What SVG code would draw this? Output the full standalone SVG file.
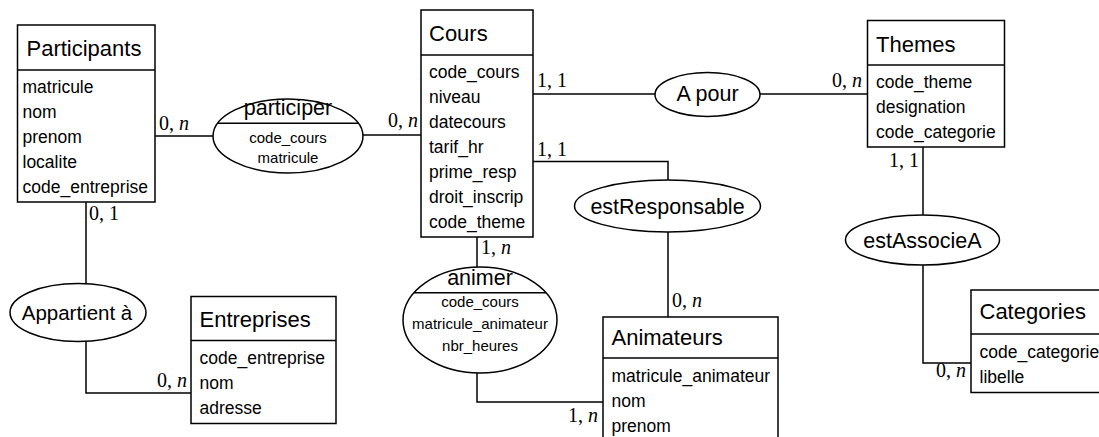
<svg xmlns="http://www.w3.org/2000/svg" width="1099" height="437" viewBox="0 0 1099 437">
<style>
.box{fill:#fff;stroke:#000;stroke-width:1.5}
.sep{stroke:#000;stroke-width:1.5}
.ell{fill:#fff;stroke:#000;stroke-width:1.5}
.ln{fill:none;stroke:#000;stroke-width:1.5}
.hd{font-family:"Liberation Sans",Arial,sans-serif;font-size:22px;fill:#000}
.at{font-family:"Liberation Sans",Arial,sans-serif;font-size:17.5px;fill:#000}
.rt{font-family:"Liberation Sans",Arial,sans-serif;font-size:21.5px;fill:#000;text-anchor:middle}
.ra{font-family:"Liberation Sans",Arial,sans-serif;font-size:15px;fill:#000;text-anchor:middle}
.cd{font-family:"Liberation Serif","Times New Roman",serif;font-size:20px;fill:#000}
.it{font-style:italic}
</style>
<rect width="1099" height="437" fill="#fff"/>
<g id="connectors">
<path class="ln" d="M155,136H213"/>
<path class="ln" d="M363,135H421"/>
<path class="ln" d="M533,94H655"/>
<path class="ln" d="M760,94H867"/>
<path class="ln" d="M533,161.5H668V180"/>
<path class="ln" d="M668,232V317"/>
<path class="ln" d="M477,237V267"/>
<path class="ln" d="M477,373V402H603"/>
<path class="ln" d="M86,202V284"/>
<path class="ln" d="M86,341V393H191"/>
<path class="ln" d="M923,147V215"/>
<path class="ln" d="M923,265V363H971"/>
<text class="cd" x="159" y="130">0, <tspan class="it">n</tspan></text>
<text class="cd" x="388" y="127">0, <tspan class="it">n</tspan></text>
<text class="cd" x="537" y="87">1, 1</text>
<text class="cd" x="832" y="87">0, <tspan class="it">n</tspan></text>
<text class="cd" x="537" y="156">1, 1</text>
<text class="cd" x="672" y="307">0, <tspan class="it">n</tspan></text>
<text class="cd" x="481" y="254">1, <tspan class="it">n</tspan></text>
<text class="cd" x="568" y="422">1, <tspan class="it">n</tspan></text>
<text class="cd" x="89" y="220">0, 1</text>
<text class="cd" x="157" y="387">0, <tspan class="it">n</tspan></text>
<text class="cd" x="889" y="167">1, 1</text>
<text class="cd" x="936" y="377">0, <tspan class="it">n</tspan></text>
</g>
<g id="participants">
<rect class="box" x="17.5" y="25" width="137.5" height="177"/>
<line class="sep" x1="17.5" y1="70" x2="155" y2="70"/>
<text class="hd" x="26.5" y="55.5">Participants</text>
<text class="at" x="22.5" y="92.5">matricule</text>
<text class="at" x="22.5" y="117.5">nom</text>
<text class="at" x="22.5" y="142.5">prenom</text>
<text class="at" x="22.5" y="167.5">localite</text>
<text class="at" x="22.5" y="192.5">code_entreprise</text>
</g>
<g id="participer">
<ellipse class="ell" cx="288" cy="136" rx="75" ry="37"/>
<line class="sep" x1="217.6" y1="123.3" x2="358.4" y2="123.3"/>
<text class="rt" x="288" y="115">participer</text>
<text class="ra" x="288" y="143">code_cours</text>
<text class="ra" x="288" y="163">matricule</text>
</g>
<g id="cours">
<rect class="box" x="421" y="10" width="112" height="227"/>
<line class="sep" x1="421" y1="55" x2="533" y2="55"/>
<text class="hd" x="429" y="40.5">Cours</text>
<text class="at" x="429" y="78">code_cours</text>
<text class="at" x="429" y="103">niveau</text>
<text class="at" x="429" y="128">datecours</text>
<text class="at" x="429" y="153">tarif_hr</text>
<text class="at" x="429" y="178">prime_resp</text>
<text class="at" x="429" y="203">droit_inscrip</text>
<text class="at" x="429" y="228">code_theme</text>
</g>
<g id="apour">
<ellipse class="ell" cx="707.5" cy="94.5" rx="52.5" ry="22"/>
<text class="rt" x="707.5" y="101">A pour</text>
</g>
<g id="themes">
<rect class="box" x="867.5" y="20.5" width="137" height="126.5"/>
<line class="sep" x1="867.5" y1="65" x2="1004.5" y2="65"/>
<text class="hd" x="876" y="51.5">Themes</text>
<text class="at" x="876" y="88">code_theme</text>
<text class="at" x="876" y="113">designation</text>
<text class="at" x="876" y="138">code_categorie</text>
</g>
<g id="estResponsable">
<ellipse class="ell" cx="667.5" cy="206" rx="93" ry="26"/>
<text class="rt" x="667.5" y="213.5">estResponsable</text>
</g>
<g id="animer">
<ellipse class="ell" cx="480" cy="320" rx="77" ry="53"/>
<line class="sep" x1="414" y1="292.7" x2="546" y2="292.7"/>
<text class="rt" x="480" y="285">animer</text>
<text class="ra" x="480" y="307">code_cours</text>
<text class="ra" x="480" y="329">matricule_animateur</text>
<text class="ra" x="480" y="351">nbr_heures</text>
</g>
<g id="animateurs">
<rect class="box" x="603" y="317" width="175" height="130"/>
<line class="sep" x1="603" y1="358" x2="778" y2="358"/>
<text class="hd" x="611.5" y="345">Animateurs</text>
<text class="at" x="611.5" y="382">matricule_animateur</text>
<text class="at" x="611.5" y="407">nom</text>
<text class="at" x="611.5" y="432">prenom</text>
</g>
<g id="appartient">
<ellipse class="ell" cx="78" cy="312.5" rx="68" ry="29"/>
<text class="rt" x="77" y="319.5" style="font-size:20.5px">Appartient à</text>
</g>
<g id="entreprises">
<rect class="box" x="191" y="296.5" width="145" height="127"/>
<line class="sep" x1="191" y1="340.5" x2="336" y2="340.5"/>
<text class="hd" x="199.5" y="327">Entreprises</text>
<text class="at" x="199.5" y="363.5">code_entreprise</text>
<text class="at" x="199.5" y="388.5">nom</text>
<text class="at" x="199.5" y="413.5">adresse</text>
</g>
<g id="estAssocieA">
<ellipse class="ell" cx="922.5" cy="240" rx="77" ry="25"/>
<text class="rt" x="922.5" y="247.5">estAssocieA</text>
</g>
<g id="categories">
<rect class="box" x="971" y="290" width="140" height="102.5"/>
<line class="sep" x1="971" y1="334" x2="1111" y2="334"/>
<text class="hd" x="979.5" y="319">Categories</text>
<text class="at" x="979.5" y="358">code_categorie</text>
<text class="at" x="979.5" y="382.5">libelle</text>
</g>
</svg>
